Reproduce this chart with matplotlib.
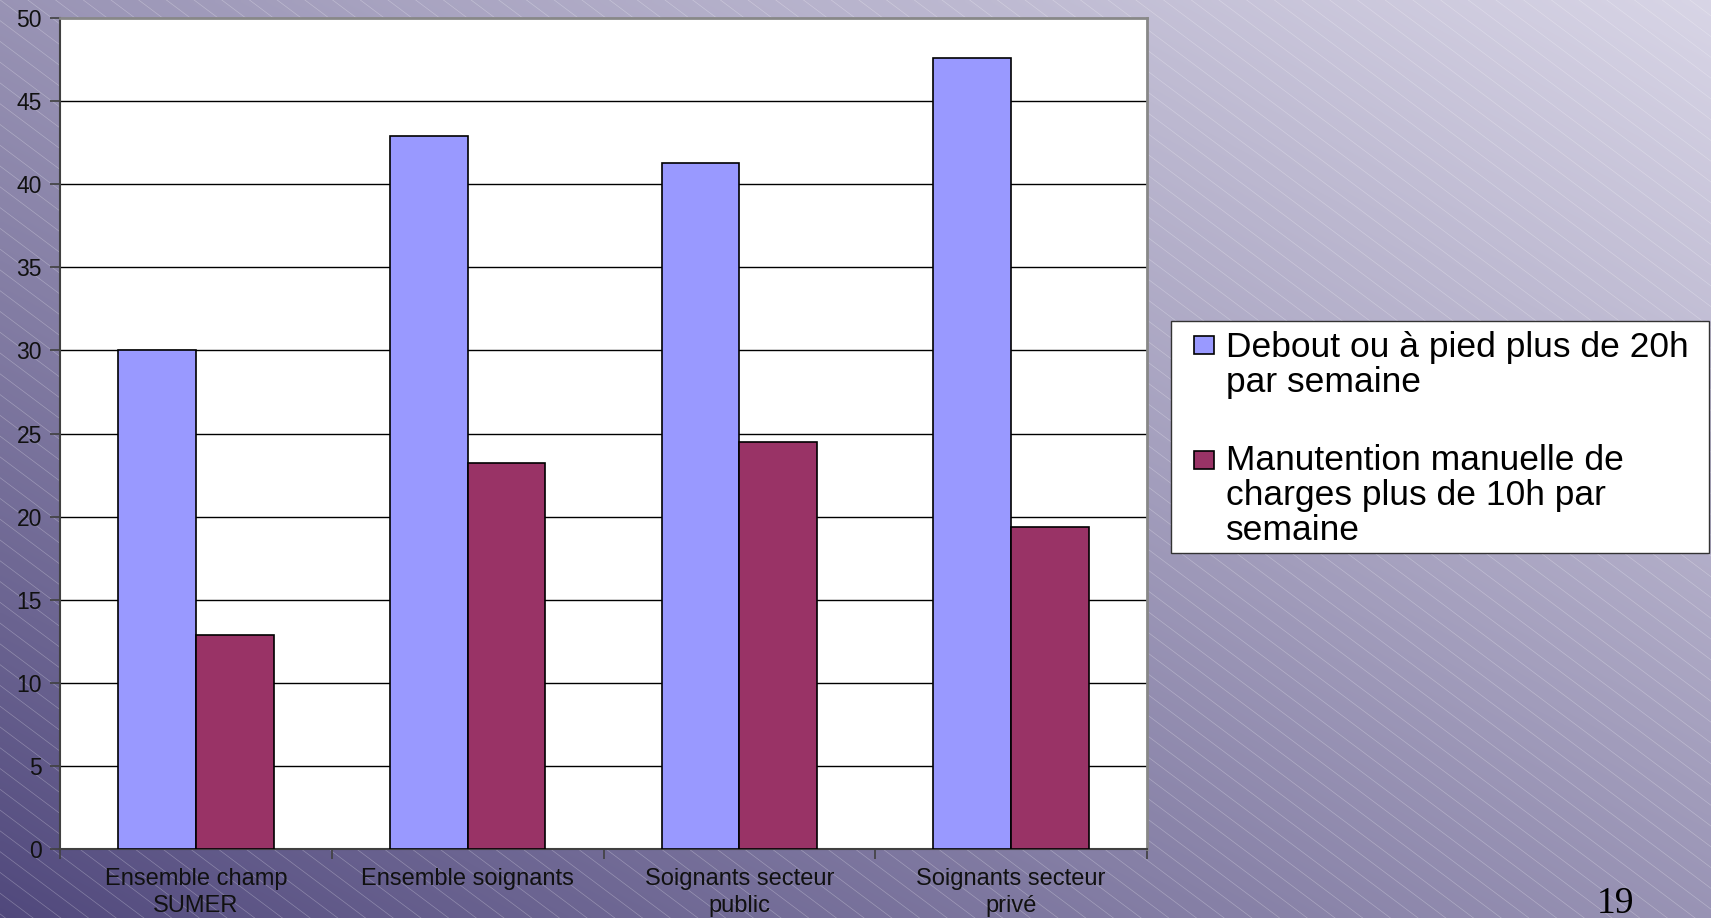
import numpy as np
import matplotlib
matplotlib.use("Agg")
from matplotlib import pyplot as plt
from matplotlib.patches import Rectangle

categories = ["Ensemble champ\nSUMER", "Ensemble soignants",
              "Soignants secteur\npublic", "Soignants secteur\nprivé"]
debout = [30.0, 42.9, 41.3, 47.6]
manutention = [12.9, 23.2, 24.5, 19.4]
labels = ["Debout ou à pied plus de 20h\npar semaine",
          "Manutention manuelle de\ncharges plus de 10h par\nsemaine"]
colors = ['#9999FF', '#993366']
slide_number = "19"

W, H = 1711, 918
plt.rcParams['font.family'] = ['Liberation Sans', 'DejaVu Sans']
fig = plt.figure(figsize=(W / 100, H / 100), dpi=100)


def fx(x):
    return x / W


def fy(y):
    return 1 - y / H


# slide background: diagonal gradient + faint white diagonal lines
bg = fig.add_axes([0, 0, 1, 1])
xx, yy = np.meshgrid(np.linspace(0, 1, 400), np.linspace(0, 1, 220))
t = (xx + (1 - yy)) / 2.0
c0 = np.array([80, 72, 124]) / 255.0
c1 = np.array([216, 213, 230]) / 255.0
img = c0[None, None, :] + (c1 - c0)[None, None, :] * t[:, :, None] ** 0.9
bg.imshow(img, extent=[0, W, H, 0], aspect='auto', interpolation='bilinear')
slope = 0.75
for x0 in np.arange(-H / slope - 50, W + 50, 27.7):
    bg.plot([x0, x0 + H / slope], [0, H], color='white', lw=0.5, alpha=0.28)
bg.set_xlim(0, W)
bg.set_ylim(H, 0)
bg.axis('off')

# chart
ax = fig.add_axes([fx(60), fy(849), (1147 - 60) / W, (849 - 18) / H])
ax.set_facecolor('white')
x = np.arange(len(categories))
bw = 0.286
ax.bar(x - bw / 2, debout, bw, color=colors[0], edgecolor='black', lw=1.2, zorder=3)
ax.bar(x + bw / 2, manutention, bw, color=colors[1], edgecolor='black', lw=1.2, zorder=3)

ax.set_xlim(-0.5, len(categories) - 0.5)
ax.set_ylim(0, 50)
ax.set_yticks(np.arange(0, 51, 5))
for v in range(5, 50, 5):
    ax.axhline(v, color='black', lw=1.0, zorder=1)

ax.set_xticks(x)
ax.set_xticklabels(categories, fontsize=17, color='#111111', linespacing=1.33)
ax.tick_params(axis='x', length=0, pad=13.5)
ax.set_xticks(np.arange(-0.5, len(categories) + 0.5, 1), minor=True)
ax.tick_params(axis='x', which='minor', length=7, width=1.2, color='#404040')
ax.tick_params(axis='y', length=7, width=1.2, color='#404040', labelsize=16.5,
               labelcolor='#111111', pad=6)

for s in ['left', 'bottom']:
    ax.spines[s].set_color('#404040')
    ax.spines[s].set_linewidth(1.5)
for s in ['top', 'right']:
    ax.spines[s].set_color('#888888')
    ax.spines[s].set_linewidth(2)

# legend box (squares aligned with first line of each entry, as in the slide)
fig.patches.append(Rectangle((fx(1171), fy(553)), (1709 - 1171) / W, (553 - 321) / H,
                             transform=fig.transFigure, facecolor='white',
                             edgecolor='#333333', lw=1.0, zorder=5))
square_tops = [336, 451]
text_tops = [331, 444]
for lab, col, sq, tt in zip(labels, colors, square_tops, text_tops):
    fig.patches.append(Rectangle((fx(1194), fy(sq + 17.5)), 20 / W, 17.5 / H,
                                 transform=fig.transFigure, facecolor=col,
                                 edgecolor='black', lw=1.2, zorder=6))
    fig.text(fx(1226), fy(tt), lab, fontsize=25.5, color='black',
             ha='left', va='top', linespacing=1.07, zorder=6)

fig.text(fx(1615), fy(904), slide_number, fontsize=27,
         family=['Liberation Serif', 'DejaVu Serif'], ha='center', va='center')

fig.savefig('out.png', dpi=100)
